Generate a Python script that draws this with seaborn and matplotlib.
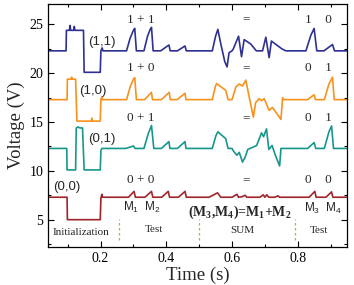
import numpy as np
import pandas as pd
import matplotlib
matplotlib.use('Agg')
import matplotlib.pyplot as plt
from matplotlib.ticker import MultipleLocator
import seaborn as sns

# ---- data ----
t_11 = [0.04, 0.095, 0.096, 0.105, 0.107, 0.109, 0.118, 0.120, 0.122, 0.148, 0.150, 0.199, 0.201,
        0.205, 0.207, 0.279, 0.290, 0.300, 0.304, 0.309, 0.332, 0.343, 0.351, 0.355, 0.360, 0.383,
        0.408, 0.412, 0.434, 0.457, 0.461, 0.540, 0.550, 0.557, 0.566, 0.578, 0.585, 0.591, 0.600,
        0.604, 0.620, 0.629, 0.637, 0.657, 0.674, 0.693, 0.703, 0.713, 0.720, 0.752, 0.764, 0.825,
        0.840, 0.850, 0.858, 0.880, 0.906, 0.912, 0.95]
v_11 = [22.3, 22.3, 24.4, 24.4, 24.9, 24.4, 24.4, 24.8, 24.4, 24.4, 20.1, 20.1, 22.3,
        22.6, 22.3, 22.3, 23.6, 24.4, 24.6, 22.3, 22.3, 23.8, 24.5, 24.7, 22.3, 22.3,
        22.9, 22.3, 22.3, 22.8, 22.3, 22.3, 23.8, 24.5, 23.0, 21.2, 20.65, 22.1, 22.3,
        22.5, 23.8, 21.7, 23.45, 23.0, 22.3, 22.3, 23.7, 21.6, 23.3, 22.5, 22.3, 22.3,
        23.9, 24.6, 22.3, 22.3, 22.95, 22.3, 22.3]

t_10 = [0.04, 0.098, 0.099, 0.110, 0.112, 0.114, 0.124, 0.128, 0.172, 0.173, 0.175, 0.199, 0.201,
        0.204, 0.206, 0.279, 0.290, 0.300, 0.304, 0.309, 0.334, 0.355, 0.358, 0.385, 0.409, 0.412,
        0.433, 0.457, 0.460, 0.540, 0.549, 0.553, 0.581, 0.588, 0.600, 0.612, 0.622, 0.632, 0.642,
        0.665, 0.672, 0.683, 0.690, 0.698, 0.713, 0.723, 0.749, 0.754, 0.757, 0.830, 0.850, 0.854,
        0.881, 0.895, 0.906, 0.911, 0.95]
v_10 = [17.3, 17.3, 19.4, 19.4, 19.6, 19.4, 19.4, 15.1, 15.1, 15.4, 15.1, 15.1, 17.3,
        17.6, 17.3, 17.3, 18.6, 19.4, 19.55, 17.3, 17.3, 18.05, 17.3, 17.3, 18.05, 17.3,
        17.3, 17.95, 17.3, 17.3, 18.6, 18.95, 18.25, 17.3, 17.3, 18.6, 18.9, 18.7, 19.3,
        15.5, 17.0, 17.4, 17.2, 17.4, 16.2, 16.5, 15.27, 17.5, 17.3, 17.3, 17.8, 17.3,
        17.3, 18.9, 19.6, 17.3, 17.3]

t_01 = [0.04, 0.097, 0.098, 0.124, 0.126, 0.131, 0.137, 0.145, 0.150, 0.199, 0.201, 0.204, 0.277,
        0.300, 0.305, 0.332, 0.345, 0.355, 0.362, 0.385, 0.408, 0.411, 0.434, 0.457, 0.460, 0.540,
        0.551, 0.557, 0.581, 0.588, 0.600, 0.605, 0.615, 0.622, 0.632, 0.640, 0.648, 0.655, 0.675,
        0.690, 0.696, 0.705, 0.712, 0.722, 0.732, 0.745, 0.749, 0.830, 0.850, 0.855, 0.881, 0.895,
        0.903, 0.909, 0.95]
v_01 = [12.3, 12.3, 10.1, 10.1, 14.4, 14.5, 14.4, 14.4, 10.1, 10.1, 12.1, 12.3, 12.3,
        12.55, 12.3, 12.3, 13.8, 14.65, 12.3, 12.3, 13.0, 12.3, 12.3, 13.0, 12.3, 12.3,
        13.6, 14.0, 13.3, 12.3, 12.3, 12.0, 11.6, 11.9, 10.9, 11.4, 12.2, 12.3, 12.6,
        13.9, 13.5, 14.3, 12.2, 12.6, 11.6, 10.5, 12.3, 12.3, 12.9, 12.3, 12.3, 14.0,
        14.6, 12.3, 12.3]

t_00 = [0.04, 0.098, 0.099, 0.199, 0.201, 0.204, 0.206, 0.285, 0.302, 0.306, 0.335, 0.355, 0.359,
        0.386, 0.406, 0.410, 0.437, 0.457, 0.461, 0.530, 0.556, 0.566, 0.600, 0.615, 0.620, 0.630,
        0.640, 0.645, 0.685, 0.695, 0.700, 0.706, 0.712, 0.730, 0.740, 0.745, 0.835, 0.852, 0.856,
        0.886, 0.903, 0.907, 0.95]
v_00 = [7.3, 7.3, 5.0, 5.0, 7.2, 7.6, 7.3, 7.3, 7.9, 7.3, 7.3, 7.9, 7.3,
        7.3, 7.9, 7.3, 7.3, 7.9, 7.3, 7.3, 7.75, 7.3, 7.3, 7.6, 7.3, 7.35,
        7.5, 7.3, 7.3, 7.55, 7.3, 7.55, 7.3, 7.3, 7.45, 7.3, 7.3, 7.9, 7.3,
        7.3, 7.85, 7.3, 7.3]

series = [(t_11, v_11, '#2E3192'), (t_10, v_10, '#F7921E'),
          (t_01, v_01, '#17978C'), (t_00, v_00, '#A0252A')]

sns.set_theme(style="ticks")
plt.rcParams['font.family'] = ['Liberation Serif', 'DejaVu Serif']
plt.rcParams['mathtext.fontset'] = 'custom'
plt.rcParams['mathtext.rm'] = 'Liberation Serif'
plt.rcParams['mathtext.bf'] = 'Liberation Serif:bold'
plt.rcParams['mathtext.sf'] = 'Liberation Sans'

fig = plt.figure(figsize=(3.54, 2.85), dpi=100)
ax = fig.add_axes([0.1356, 0.1333, 0.8446, 0.8527])

for t, v, c in series:
    df = pd.DataFrame({'t': t, 'v': v})
    sns.lineplot(data=df, x='t', y='v', ax=ax, color=c, lw=1.2,
                 sort=False, estimator=None)

ax.set_xlim(0.04, 0.95)
ax.set_ylim(2.2, 27.1)
ax.xaxis.set_major_locator(MultipleLocator(0.2))
ax.xaxis.set_minor_locator(MultipleLocator(0.1))
ax.yaxis.set_major_locator(MultipleLocator(5))
ax.yaxis.set_minor_locator(MultipleLocator(2.5))
ax.set_xticks([0.2, 0.4, 0.6, 0.8])
ax.set_xticklabels(['0.2', '0.4', '0.6', '0.8'])
ax.tick_params(which='both', direction='in', top=True, right=True, width=0.8,
               labelsize=10, colors='black')
ax.tick_params(which='major', length=4)
ax.tick_params(which='minor', length=2.5)
for s in ax.spines.values():
    s.set_linewidth(0.9)
    s.set_color('black')
ax.set_xlabel('Time (s)', fontsize=13.5, labelpad=1)
ax.set_ylabel('Voltage (V)', fontsize=13.5, labelpad=3)

# dashed separators
for xv in [0.256, 0.500, 0.793]:
    ax.plot([xv, xv], [2.9, 5.1], ls=(0, (2, 2)), color='#77CC55', lw=0.9)

serif = dict(fontsize=9.5, ha='center', va='center')
sans = dict(fontsize=9.5, ha='center', va='center', family='Liberation Sans')
for y, lhs, rhs, pair, px, py in [
        (25.5, '1 + 1', '1    0', '(1,1)', 0.203, 23.2),
        (20.5, '1 + 0', '0    1', '(1,0)', 0.177, 18.2),
        (15.4, '0 + 1', '0    1', '(0,1)', 0.205, 13.3),
        (9.05, '0 + 0', '0    0', '(0,0)', 0.098, 8.35)]:
    ax.text(0.322, y, lhs, **serif)
    ax.text(0.643, y, '=', **serif)
    ax.text(0.862, y, rhs, **serif)
    ax.text(px, py, pair, **sans)

ax.text(0.325, 6.3, r'M$_\mathsf{1}$  M$_\mathsf{2}$', fontsize=8.5, ha='center',
        va='center', family='Liberation Sans')
ax.text(0.876, 6.15, r'M$_\mathsf{3}$  M$_\mathsf{4}$', fontsize=8.5, ha='center',
        va='center', family='Liberation Sans')
ax.text(0.624, 5.75, r'(M$_\mathbf{3}$,M$_\mathbf{4}$)=M$_\mathbf{1}$+M$_\mathbf{2}$',
        fontsize=10, fontweight='bold', ha='center', va='center')
ax.text(0.140, 3.7, 'Initialization', fontsize=8, ha='center', va='center')
ax.text(0.362, 3.95, 'Test', fontsize=8, ha='center', va='center')
ax.text(0.632, 3.9, 'SUM', fontsize=8, ha='center', va='center')
ax.text(0.865, 3.9, 'Test', fontsize=8, ha='center', va='center')

fig.savefig('out.png', dpi=100)
